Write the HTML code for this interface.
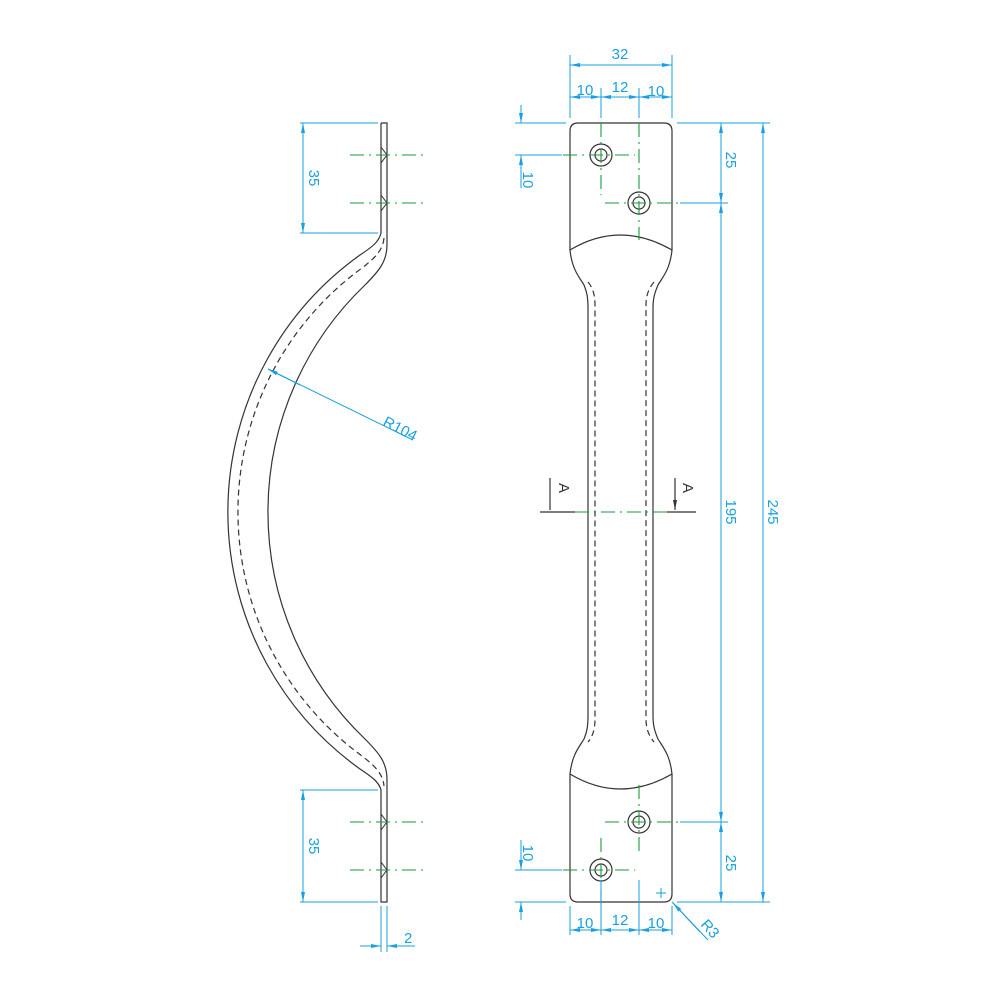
<!DOCTYPE html>
<html><head><style>body{margin:0;background:#fff}svg{display:block}</style></head>
<body>
<svg width="1000" height="1000" viewBox="0 0 1000 1000" xmlns="http://www.w3.org/2000/svg" font-family="Liberation Sans, sans-serif">
<defs>
<marker id="a" markerWidth="10" markerHeight="6" refX="10" refY="3" orient="auto" markerUnits="userSpaceOnUse"><path d="M0,1 L10,3 L0,5 Z" fill="#1aa0e0"/></marker>
<marker id="k" markerWidth="10" markerHeight="6" refX="10" refY="3" orient="auto" markerUnits="userSpaceOnUse"><path d="M0,1 L10,3 L0,5 Z" fill="#333"/></marker>
</defs>
<g fill="none" stroke="#333" stroke-width="1.2">
<path d="M381,123 H387 V245 M381,123 V233"/>
<path d="M381,233 C379,242 372,247 360,255 A316,316 0 0 0 360,769 C372,777 379,782 381,790 V902 H387 V779"/>
<path d="M387,245 C387,262 378,272 365,285 A314,314 0 0 0 365,739 C378,752 387,762 387,779"/>
<path d="M384,238 C383,250 375,258 362,268 A302,302 0 0 0 362,756 C375,766 383,774 384,786" stroke-dasharray="6,4"/>
<path d="M381,147 L387,155 L381,163 M381,195 L387,203 L381,211 M381,814 L387,822 L381,830 M381,862 L387,870 L381,878" stroke-width="1"/>
<path d="M570,250 V131 Q570,123 578,123 H664 Q672,123 672,131 V250"/>
<path d="M570,250 Q620,220 672,250"/>
<path d="M570,250 C572,270 580,278 584,285 C587,292 588,298 588,308 V716 C588,726 587,732 584,739 C580,746 572,754 570,774"/>
<path d="M672,250 C670,270 662,278 658,285 C655,292 653,298 653,308 V716 C653,726 655,732 658,739 C662,746 670,754 672,774"/>
<path d="M588,282 C593,288 595,295 595,305 V719 C595,729 593,736 588,742 M654,282 C649,288 646,295 646,305 V719 C646,729 649,736 654,742" stroke-dasharray="6,4"/>
<path d="M570,774 V894 Q570,902 578,902 H664 Q672,902 672,894 V774"/>
<path d="M570,774 Q620,804 672,774"/>
<circle cx="601" cy="155" r="11"/><circle cx="601" cy="155" r="6"/>
<circle cx="639" cy="203" r="11"/><circle cx="639" cy="203" r="6"/>
<circle cx="639" cy="822" r="11"/><circle cx="639" cy="822" r="6"/>
<circle cx="601" cy="870" r="11"/><circle cx="601" cy="870" r="6"/>
<path d="M540,512 H575 M667,512 H696"/>
<path d="M550,478 V510 M675,478 V510" marker-end="url(#k)"/>
</g>
<g stroke="#1a9a3a" stroke-width="1.1" fill="none" stroke-dasharray="14,5,2,5">
<path d="M350,155 H425 M350,203 H425 M350,822 H425 M350,870 H425"/>
<path d="M563,155 H635 M601,123 V195 M605,203 H678 M639,123 V240"/>
<path d="M605,822 H678 M639,785 V855 M563,870 H635 M601,838 V905"/>
<path d="M575,512 H667"/>
</g>
<g stroke="#1aa0e0" stroke-width="1" fill="none">
<path d="M300,123 H378 M300,233 H378 M300,790 H378 M300,902 H378"/>
<path d="M303,160 V123" marker-end="url(#a)"/><path d="M303,160 V233" marker-end="url(#a)"/>
<path d="M303,850 V790" marker-end="url(#a)"/><path d="M303,850 V902" marker-end="url(#a)"/>
<path d="M381,906 V952 M387,906 V952"/>
<path d="M360,946 H381" marker-end="url(#a)"/><path d="M415,946 H387" marker-end="url(#a)"/>
<path d="M268,369 L413,440"/><path d="M300,385 L268,369" marker-end="url(#a)"/>
<path d="M570,118 V55 M672,118 V55 M601,118 V88 M639,118 V88"/>
<path d="M620,65 H570" marker-end="url(#a)"/><path d="M620,65 H672" marker-end="url(#a)"/>
<path d="M585,97 H570" marker-end="url(#a)"/><path d="M585,97 H601" marker-end="url(#a)"/>
<path d="M620,97 H601" marker-end="url(#a)"/><path d="M620,97 H639" marker-end="url(#a)"/>
<path d="M655,97 H639" marker-end="url(#a)"/><path d="M655,97 H672" marker-end="url(#a)"/>
<path d="M515,123 H566 M515,155 H562 M515,870 H562 M515,902 H566"/>
<path d="M521,105 V123" marker-end="url(#a)"/><path d="M521,188 V155" marker-end="url(#a)"/>
<path d="M521,840 V870" marker-end="url(#a)"/><path d="M521,920 V902" marker-end="url(#a)"/>
<path d="M677,123 H770 M680,203 H728 M680,822 H728 M677,902 H770"/>
<path d="M721,163 V123" marker-end="url(#a)"/><path d="M721,163 V203" marker-end="url(#a)"/>
<path d="M721,510 V203" marker-end="url(#a)"/><path d="M721,510 V822" marker-end="url(#a)"/>
<path d="M721,862 V822" marker-end="url(#a)"/><path d="M721,862 V902" marker-end="url(#a)"/>
<path d="M763,510 V123" marker-end="url(#a)"/><path d="M763,510 V902" marker-end="url(#a)"/>
<path d="M570,906 V935 M601,880 V935 M639,880 V935 M672,906 V935"/>
<path d="M585,930 H570" marker-end="url(#a)"/><path d="M585,930 H601" marker-end="url(#a)"/>
<path d="M620,930 H601" marker-end="url(#a)"/><path d="M620,930 H639" marker-end="url(#a)"/>
<path d="M655,930 H639" marker-end="url(#a)"/><path d="M655,930 H672" marker-end="url(#a)"/>
<path d="M708,940 L672,902"/><path d="M700,932 L673,903" marker-end="url(#a)"/>
<path d="M656,893 H666 M661,888 V898"/>
</g>
<g fill="#1aa0e0" font-size="15">
<text x="620" y="59" text-anchor="middle">32</text>
<text x="585" y="95" text-anchor="middle">10</text>
<text x="620" y="92" text-anchor="middle">12</text>
<text x="656" y="96" text-anchor="middle">10</text>
<text x="585" y="928" text-anchor="middle">10</text>
<text x="620" y="925" text-anchor="middle">12</text>
<text x="656" y="928" text-anchor="middle">10</text>
<text transform="translate(309,178) rotate(90)" text-anchor="middle">35</text>
<text transform="translate(309,846) rotate(90)" text-anchor="middle">35</text>
<text transform="translate(523,180) rotate(90)" text-anchor="middle">10</text>
<text transform="translate(523,853) rotate(90)" text-anchor="middle">10</text>
<text transform="translate(726,160) rotate(90)" text-anchor="middle">25</text>
<text transform="translate(726,863) rotate(90)" text-anchor="middle">25</text>
<text transform="translate(726,512) rotate(90)" text-anchor="middle">195</text>
<text transform="translate(768,512) rotate(90)" text-anchor="middle">245</text>
<text x="404" y="943">2</text>
<text transform="translate(382,425) rotate(27)">R104</text>
<text transform="translate(700,925) rotate(48)">R3</text>
</g>
<g fill="#333" font-size="15">
<text transform="translate(559,488) rotate(90)" text-anchor="middle">A</text>
<text transform="translate(683,488) rotate(90)" text-anchor="middle">A</text>
</g>
</svg>
</body></html>
